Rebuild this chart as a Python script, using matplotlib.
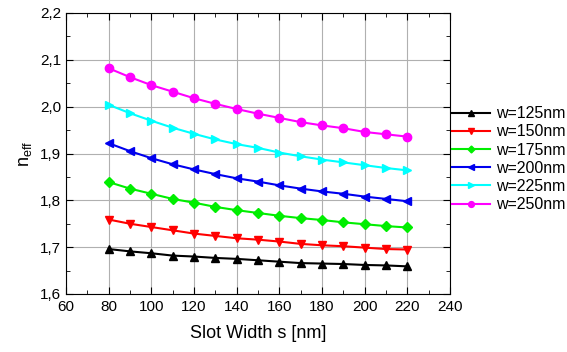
import numpy as np
import matplotlib.pyplot as plt
from matplotlib.ticker import MultipleLocator, FuncFormatter

plt.rcParams['font.family'] = ['Liberation Sans', 'DejaVu Sans']

# dados
s = [80, 90, 100, 110, 120, 130, 140, 150, 160, 170, 180, 190, 200, 210, 220]

n125 = [1.696, 1.691, 1.687, 1.682, 1.680, 1.677, 1.675, 1.672, 1.669, 1.666, 1.665, 1.664, 1.662, 1.661, 1.659]
n150 = [1.759, 1.750, 1.743, 1.736, 1.729, 1.724, 1.719, 1.716, 1.712, 1.707, 1.704, 1.702, 1.699, 1.696, 1.695]
n175 = [1.839, 1.825, 1.814, 1.803, 1.795, 1.786, 1.779, 1.773, 1.767, 1.762, 1.758, 1.753, 1.749, 1.745, 1.742]
n200 = [1.922, 1.905, 1.890, 1.877, 1.866, 1.856, 1.847, 1.840, 1.832, 1.825, 1.819, 1.814, 1.808, 1.803, 1.798]
n225 = [2.004, 1.986, 1.970, 1.955, 1.942, 1.930, 1.920, 1.912, 1.902, 1.894, 1.887, 1.881, 1.875, 1.869, 1.864]
n250 = [2.082, 2.063, 2.046, 2.032, 2.018, 2.006, 1.995, 1.985, 1.976, 1.967, 1.960, 1.954, 1.946, 1.941, 1.936]

series = [n125, n150, n175, n200, n225, n250]
labels = ['w=125nm', 'w=150nm', 'w=175nm', 'w=200nm', 'w=225nm', 'w=250nm']
colors = ['black', 'red', '#00ee00', '#0000ee', 'cyan', 'magenta']
markers = ['^', 'v', 'D', '<', '>', 'o']
msizes = [6, 6, 5, 6, 6, 6]

fig = plt.figure(figsize=(5.67, 3.52), dpi=100)
ax = fig.add_axes([66/567, 1 - 294/352, (450-66)/567, (294-13)/352])

for y, lab, c, m, ms in zip(series, labels, colors, markers, msizes):
    ax.plot(s, y, color=c, marker=m, markersize=ms, linewidth=1.5, label=lab)

ax.set_xlim(60, 240)
ax.set_ylim(1.6, 2.2)
ax.xaxis.set_major_locator(MultipleLocator(20))
ax.xaxis.set_minor_locator(MultipleLocator(10))
ax.yaxis.set_major_locator(MultipleLocator(0.1))
ax.yaxis.set_minor_locator(MultipleLocator(0.05))
ax.yaxis.set_major_formatter(FuncFormatter(lambda v, p: ('%.1f' % v).replace('.', ',')))
ax.tick_params(which='both', direction='in', top=True, right=True, labelsize=11)
ax.tick_params(which='major', length=5)
ax.tick_params(which='minor', length=3)
ax.tick_params(axis='x', pad=4)
ax.grid(True, which='major', color='#b0b0b0', linewidth=0.8)

ax.set_xlabel('Slot Width s [nm]', fontsize=13, labelpad=8)
ax.set_ylabel(r'n$_{\mathregular{eff}}$', fontsize=13, labelpad=4)

# legenda fora do grafico, a direita
ax.legend(loc='upper left', bbox_to_anchor=(1.005, 0.668), frameon=False, fontsize=11.5,
          handlelength=2.4, handletextpad=0.35, labelspacing=0.2, borderaxespad=0,
          borderpad=0, markerscale=0.7)

plt.savefig('out.png', dpi=100)
